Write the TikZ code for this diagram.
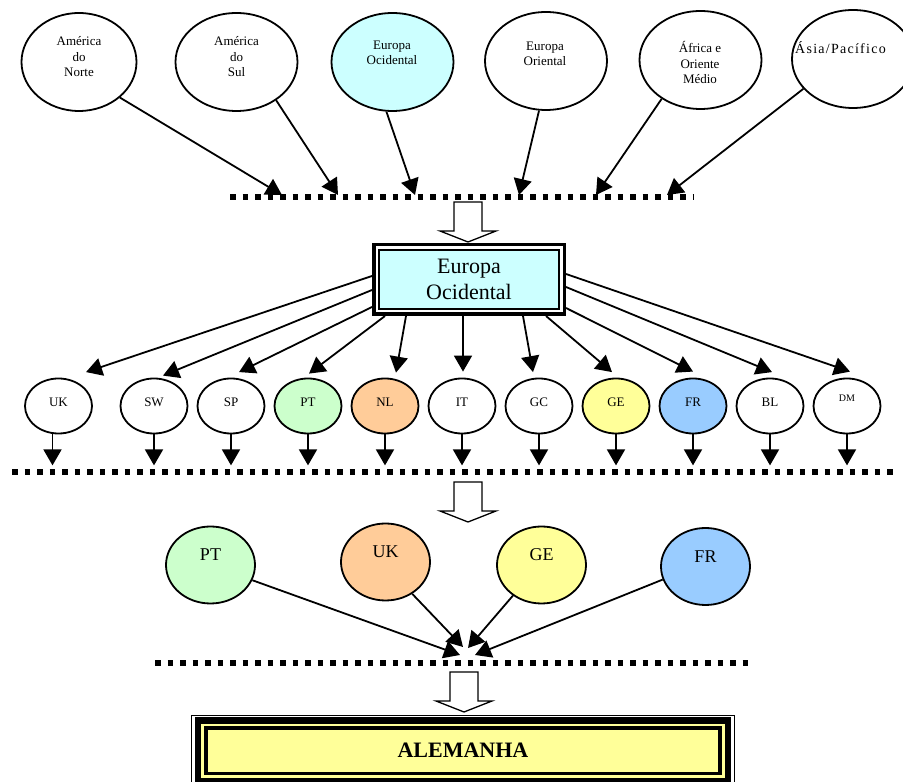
\documentclass[tikz,border=0pt]{standalone}
\usepackage{fontspec}
\setmainfont{Liberation Serif}
\usetikzlibrary{arrows.meta,shapes.geometric}
\definecolor{lcyan}{HTML}{CCFFFF}
\definecolor{lgreen}{HTML}{CCFFCC}
\definecolor{lorange}{HTML}{FFCC99}
\definecolor{lyellow}{HTML}{FFFF99}
\definecolor{lblue}{HTML}{99CCFF}
\newcommand{\hollowdown}[2]{%
\draw[line width=1.3pt,fill=white] (#1-14,#2) -- (#1-14,#2-29) -- (#1-28,#2-29) -- (#1,#2-40) -- (#1+28,#2-29) -- (#1+14,#2-29) -- (#1+14,#2) -- cycle;}
\begin{document}
\begin{tikzpicture}[x=1pt,y=1pt,
  region/.style={ellipse,draw,line width=1.8pt,minimum width=122pt,minimum height=98pt},
  regtext/.style={anchor=north,align=center,inner sep=0pt,font=\fontsize{13}{15.5}\selectfont,execute at begin node=\strut},
  country/.style={ellipse,draw,line width=1.8pt,minimum width=67pt,minimum height=55pt,inner sep=1pt,text depth=8pt,font=\fontsize{13}{15}\selectfont},
  chosen/.style={ellipse,draw,line width=1.8pt,minimum width=89pt,minimum height=77pt,inner sep=1pt,text depth=20pt,font=\fontsize{18}{20}\selectfont},
  fan/.style={line width=1.8pt,-{Triangle[length=16pt,width=18pt]}},
  dotline/.style={line width=5.5pt,dash pattern=on 5.5pt off 7pt}]
\useasboundingbox (0,0) rectangle (903,782);

\draw[dotline] (230,585) -- (693,585);
\draw[dotline] (12,310) -- (895,310);
\draw[dotline] (155,119) -- (748,119);

\node[region,minimum width=115pt] (an) at (79,720) {};
\node[region] (as) at (236.5,720) {};
\node[region,fill=lcyan] (eoc) at (392.5,720) {};
\node[region] (eor) at (546,721) {};
\node[region] (af) at (700.5,722) {};
\node[region] (ap) at (853,723) {};
\node[regtext] (an-t) at (79,745.5) {América\\do\\Norte};
\node[regtext] (as-t) at (236.5,745.5) {América\\do\\Sul};
\node[regtext] (eoc-t) at (392,741.5) {Europa\\Ocidental};
\node[regtext] (eor-t) at (545,740.5) {Europa\\Oriental};
\node[regtext] (af-t) at (700,740.5) {África e\\Oriente\\Médio};
\node[regtext] (ap-t) at (840.5,740.5) {\fontsize{14}{15.5}\selectfont\addfontfeatures{LetterSpace=9}Ásia/Pacífico};

\coordinate (t1) at (282,587);
\coordinate (t2) at (338,587);
\coordinate (t3) at (415,587);
\coordinate (t4) at (519,587);
\coordinate (t5) at (596,587);
\coordinate (t6) at (667,587);
\draw[fan] (an.-41) -- (t1);
\draw[fan] (as.-44) -- (t2);
\draw[fan] (eoc.-97) -- (t3);
\draw[fan] (eor.-98) -- (t4);
\draw[fan] (af.-135) -- (t5);
\draw[fan] (ap.-149) -- (t6);

\hollowdown{468}{580}

\node[draw,line width=3.5pt,fill=white,minimum width=190.5pt,minimum height=69.5pt] (eo) at (469,502.5) {};
\node[draw,line width=2pt,fill=lcyan,minimum width=180pt,minimum height=59pt,inner sep=2pt,align=center,font=\fontsize{22}{26}\selectfont] (eo-in) at (469,502.5) {Europa\\Ocidental};

\node[country] (uk) at (58.5,376) {UK};
\node[country] (sw) at (154,376) {SW};
\node[country] (sp) at (231,376) {SP};
\node[country,fill=lgreen] (pt) at (308,376) {PT};
\node[country,fill=lorange] (nl) at (385,376) {NL};
\node[country] (it) at (462,376) {IT};
\node[country] (gc) at (539,376) {GC};
\node[country,fill=lyellow] (ge) at (616,376) {GE};
\node[country,fill=lblue] (fr) at (693,376) {FR};
\node[country] (bl) at (770,376) {BL};
\node[country,text depth=16pt,font=\fontsize{10}{12}\selectfont] (dm) at (847,376) {DM};

\draw[fan] ([yshift=3.5pt]eo.west) -- ([shift={(27.5,5.5)}]uk.north);
\draw[fan] ([yshift=-10.5pt]eo.west) -- ([shift={(9,2)}]sw.north);
\draw[fan] ([yshift=-27.5pt]eo.west) -- ([shift={(8,5.5)}]sp.north);
\draw[fan] ([xshift=13pt]eo.south west) -- ([shift={(1,4)}]pt.north);
\draw[fan] ([xshift=34pt]eo.south west) -- ([shift={(11,5)}]nl.north);
\draw[fan] ([xshift=-6pt]eo.south) -- ([shift={(1,6)}]it.north);
\draw[fan] ([xshift=54pt]eo.south) -- ([shift={(-6,5.5)}]gc.north);
\draw[fan] ([xshift=-20pt]eo.south east) -- ([shift={(-4,5.5)}]ge.north);
\draw[fan] ([yshift=8pt]eo.south east) -- ([shift={(0,6)}]fr.north);
\draw[fan] ([yshift=-7.5pt]eo.east) -- ([shift={(2,5.5)}]bl.north);
\draw[fan] ([yshift=5.5pt]eo.east) -- ([shift={(3,6)}]dm.north);

\draw[fan] ([xshift=-6pt]uk.south) -- ++(0,-31);
\draw[fan] (sw.south) -- ++(0,-31);
\draw[fan] (sp.south) -- ++(0,-31);
\draw[fan] (pt.south) -- ++(0,-31);
\draw[fan] (nl.south) -- ++(0,-31);
\draw[fan] (it.south) -- ++(0,-31);
\draw[fan] (gc.south) -- ++(0,-31);
\draw[fan] (ge.south) -- ++(0,-31);
\draw[fan] (fr.south) -- ++(0,-31);
\draw[fan] (bl.south) -- ++(0,-31);
\draw[fan] (dm.south) -- ++(0,-31);

\hollowdown{468}{300}

\node[chosen,fill=lgreen] (pt-sel) at (210.5,217) {PT};
\node[chosen,fill=lorange] (uk-sel) at (385.5,220) {UK};
\node[chosen,fill=lyellow] (ge-sel) at (541.5,217) {GE};
\node[chosen,fill=lblue] (fr-sel) at (705.5,215.5) {FR};

\coordinate (s1) at (460,127);
\coordinate (s2) at (463,135);
\coordinate (s3) at (468,134);
\coordinate (s4) at (475,127);
\draw[fan] (pt-sel.-20) -- (s1);
\draw[fan] (uk-sel.-50) -- (s2);
\draw[fan] (ge-sel.-133) -- (s3);
\draw[fan] (fr-sel.-163) -- (s4);

\hollowdown{464}{110}

\node[draw,line width=1.2pt,fill=white,minimum width=543.5pt,minimum height=71pt] (al-out) at (463,31.3) {};
\node[draw,line width=6.5pt,fill=lyellow,minimum width=530pt,minimum height=60.8pt] (al-mid) at (463,31.3) {};
\node[draw,line width=3.5pt,fill=lyellow,minimum width=514.3pt,minimum height=45.3pt,font=\fontsize{22}{26}\selectfont\bfseries] (al) at (463,31.3) {ALEMANHA};
\end{tikzpicture}
\end{document}
